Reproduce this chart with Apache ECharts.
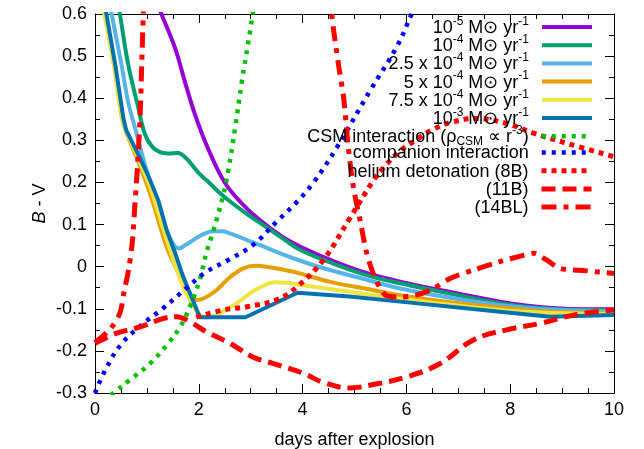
<!DOCTYPE html>
<html><head><meta charset="utf-8">
<script src="https://cdn.jsdelivr.net/npm/echarts@6/dist/echarts.min.js"></script>
<style>html,body{margin:0;padding:0;background:#fff}#c{width:644px;height:449px}</style>
</head><body><div id="c"></div>
<script>
// ---------- data (x = days after explosion, y = B - V) ----------
const mdot1e5 = [[1.1,0.66],[1.28,0.6],[1.54,0.52],[1.73,0.44],[1.93,0.36],[2.18,0.28],[2.5,0.2],[2.83,0.15],[3.18,0.11],[3.6,0.072],[4.0,0.045],[4.5,0.018],[5.23,-0.015],[5.9,-0.036],[6.5,-0.052],[7.2,-0.069],[7.8,-0.083],[8.3,-0.092],[8.8,-0.098],[9.4,-0.101],[10,-0.101]];
const mdot1e4 = [[0.4,0.66],[0.48,0.6],[0.64,0.48],[0.83,0.38],[0.96,0.315],[1.1,0.285],[1.25,0.272],[1.4,0.269],[1.6,0.27],[1.75,0.258],[1.9,0.237],[2.0,0.222],[2.15,0.205],[2.5,0.165],[3.0,0.119],[3.3,0.094],[3.63,0.066],[3.95,0.04],[4.53,0.01],[5.23,-0.02],[5.9,-0.04],[6.52,-0.056],[7.2,-0.073],[7.8,-0.087],[8.3,-0.095],[8.77,-0.1],[9.4,-0.103],[10,-0.103]];
const mdot25e4 = [[0.25,0.645],[0.32,0.6],[0.51,0.48],[0.64,0.39],[0.77,0.33],[0.9,0.27],[1.05,0.205],[1.2,0.15],[1.35,0.095],[1.5,0.055],[1.62,0.043],[1.75,0.052],[1.89,0.063],[2.05,0.075],[2.28,0.084],[2.45,0.084],[2.6,0.079],[2.9,0.065],[3.18,0.051],[3.5,0.035],[3.82,0.02],[4.2,0.004],[4.53,-0.008],[5.2,-0.03],[5.88,-0.052],[6.8,-0.073],[7.8,-0.091],[8.8,-0.102],[10,-0.106]];
const mdot5e4 = [[0.12,0.66],[0.2,0.6],[0.37,0.48],[0.53,0.35],[0.6,0.32],[0.83,0.25],[1.06,0.174],[1.38,0.047],[1.55,0.0],[1.7,-0.04],[1.85,-0.07],[1.96,-0.079],[2.1,-0.075],[2.34,-0.056],[2.6,-0.025],[2.86,-0.004],[3.08,0.002],[3.3,0.0],[3.82,-0.012],[4.53,-0.036],[5.2,-0.052],[5.88,-0.068],[6.8,-0.084],[7.8,-0.097],[8.8,-0.107],[10,-0.11]];
const mdot75e4 = [[0.1,0.66],[0.18,0.6],[0.36,0.48],[0.52,0.35],[0.6,0.322],[0.83,0.258],[1.06,0.19],[1.38,0.065],[1.7,-0.048],[1.9,-0.095],[2.02,-0.115],[2.15,-0.121],[2.34,-0.115],[2.55,-0.1],[2.73,-0.087],[3.0,-0.062],[3.18,-0.049],[3.47,-0.037],[3.7,-0.038],[4.0,-0.044],[4.53,-0.053],[5.88,-0.076],[7.8,-0.103],[8.8,-0.11],[10,-0.112]];
const mdot1e3 = [[0.15,0.65],[0.22,0.6],[0.39,0.48],[0.55,0.35],[0.6,0.325],[0.83,0.267],[1.03,0.215],[1.22,0.157],[1.38,0.087],[1.55,0.03],[1.7,-0.024],[2.02,-0.12],[2.9,-0.12],[3.9,-0.062],[4.9,-0.071],[5.88,-0.083],[7.8,-0.107],[8.77,-0.119],[10,-0.115]];
const csmInteraction = [[0.3,-0.305],[0.385,-0.297],[0.67,-0.269],[1.06,-0.23],[1.41,-0.182],[1.64,-0.143],[1.83,-0.095],[2.02,-0.03],[2.15,0.035],[2.28,0.085],[2.47,0.17],[2.57,0.23],[2.7,0.33],[2.83,0.44],[2.95,0.53],[3.05,0.61]];
const companionInteraction = [[0,-0.3],[0.2,-0.245],[0.5,-0.185],[0.9,-0.138],[1.3,-0.1],[1.77,-0.05],[2.15,-0.012],[2.6,0.018],[3.05,0.052],[3.5,0.107],[3.9,0.155],[4.21,0.2],[4.66,0.283],[5.3,0.418],[5.81,0.521],[6.1,0.6],[6.2,0.63]];
const heliumDet8B = [[1.95,-0.12],[2.47,-0.103],[2.93,-0.095],[3.5,-0.079],[3.89,-0.048],[4.4,0.016],[4.91,0.115],[5.36,0.204],[5.56,0.235],[5.88,0.275],[6.2,0.302],[6.5,0.325],[6.84,0.342],[7.35,0.352],[7.93,0.34],[8.45,0.317],[9.09,0.293],[10,0.261]];
const model11B = [[0,-0.182],[0.42,-0.158],[0.87,-0.143],[1.32,-0.123],[1.57,-0.119],[1.83,-0.131],[2.15,-0.155],[2.6,-0.182],[3.05,-0.215],[3.44,-0.23],[4.01,-0.253],[4.4,-0.275],[4.9,-0.288],[5.36,-0.28],[6.0,-0.262],[6.65,-0.23],[7.29,-0.174],[7.93,-0.15],[8.57,-0.135],[9.22,-0.115],[10,-0.103]];
const model14BL = [[0,-0.18],[0.3,-0.147],[0.48,-0.11],[0.56,-0.06],[0.65,-0.005],[0.72,0.06],[0.77,0.15],[0.82,0.24],[0.87,0.36],[0.9,0.48],[0.93,0.6],[0.96,0.75],[1.0,0.9],[4.4,0.9],[4.5,0.7],[4.56,0.6],[4.69,0.481],[4.79,0.402],[4.88,0.283],[4.98,0.188],[5.11,0.109],[5.23,0.035],[5.36,-0.016],[5.5,-0.052],[5.62,-0.069],[5.88,-0.072],[6.2,-0.067],[6.52,-0.052],[6.84,-0.028],[7.29,-0.008],[7.8,0.012],[8.2,0.025],[8.45,0.032],[8.7,0.016],[8.96,-0.004],[9.47,-0.01],[10,-0.016]];

const xRange = [0, 10];
const yRange = [-0.3, 0.6];

// ---------- styles ----------
const FONT = '"Liberation Sans", Arial, Helvetica, sans-serif';
const RICH = {
  sup: {fontSize: 12, fontFamily: FONT, color: '#000', padding: [0, 0, 13, 0]},
  sub: {fontSize: 12, fontFamily: FONT, color: '#000', padding: [9, 0, 0, 0]},
  i: {fontSize: 18, fontFamily: FONT, color: '#000', fontStyle: 'italic'}
};
const defs = [
  {name: 'm1e-5', label: '10{sup|-5} M⊙ yr{sup|-1}', data: mdot1e5, color: '#9400d3', width: 4, dash: 'solid', smooth: 0.4},
  {name: 'm1e-4', label: '10{sup|-4} M⊙ yr{sup|-1}', data: mdot1e4, color: '#009e73', width: 4, dash: 'solid', smooth: 0.4},
  {name: 'm2.5e-4', label: '2.5 x 10{sup|-4} M⊙ yr{sup|-1}', data: mdot25e4, color: '#56b4e9', width: 4, dash: 'solid', smooth: 0.4},
  {name: 'm5e-4', label: '5 x 10{sup|-4} M⊙ yr{sup|-1}', data: mdot5e4, color: '#e69f00', width: 4, dash: 'solid', smooth: 0.4},
  {name: 'm7.5e-4', label: '7.5 x 10{sup|-4} M⊙ yr{sup|-1}', data: mdot75e4, color: '#f0e442', width: 4, dash: 'solid', smooth: 0.4},
  {name: 'm1e-3', label: '10{sup|-3} M⊙ yr{sup|-1}', data: mdot1e3, color: '#0072b2', width: 4, dash: 'solid', smooth: false},
  {name: 'csm', label: 'CSM interaction (ρ{sub|CSM} ∝ r{sup|-3})', data: csmInteraction, color: '#00c000', width: 4.5, dash: [4, 6], smooth: 0.4},
  {name: 'comp', label: 'companion interaction', data: companionInteraction, color: '#0000ff', width: 4.5, dash: [4, 6], smooth: 0.4},
  {name: '8B', label: 'helium detonation (8B)', data: heliumDet8B, color: '#ff0000', width: 5, dash: [5, 5], smooth: 0.4},
  {name: '11B', label: '(11B)', data: model11B, color: '#ff0000', width: 5, dash: [14, 7], smooth: 0.4},
  {name: '14BL', label: '(14BL)', data: model14BL, color: '#ff0000', width: 5, dash: [15, 7, 5, 7], smooth: 0.3}
];

const axisCommon = {
  type: 'value',
  axisLine: {onZero: false, lineStyle: {color: '#000', width: 1}},
  axisTick: {show: true, inside: true, length: 9, lineStyle: {color: '#000', width: 1}},
  minorTick: {show: true, length: 5, lineStyle: {color: '#000', width: 1}},
  splitLine: {show: false},
  minorSplitLine: {show: false}
};
const labelStyle = {fontSize: 18, color: '#000', fontFamily: FONT, margin: 8, showMinLabel: true, showMaxLabel: true};

const option = {
  animation: false,
  backgroundColor: '#fff',
  grid: {left: 95, right: 30, top: 14, bottom: 56, outerBoundsMode: 'none', containLabel: false},
  xAxis: [
    Object.assign({}, axisCommon, {
      min: xRange[0], max: xRange[1], interval: 2, position: 'bottom',
      minorTick: Object.assign({}, axisCommon.minorTick, {splitNumber: 4}),
      axisLabel: labelStyle,
      name: 'days after explosion', nameLocation: 'middle', nameGap: 38, nameMoveOverlap: false,
      nameTextStyle: {fontSize: 18, color: '#000', fontFamily: FONT}
    }),
    Object.assign({}, axisCommon, {
      min: xRange[0], max: xRange[1], interval: 2, position: 'top',
      minorTick: Object.assign({}, axisCommon.minorTick, {splitNumber: 4}),
      axisLabel: {show: false}
    })
  ],
  yAxis: [
    Object.assign({}, axisCommon, {
      min: yRange[0], max: yRange[1], interval: 0.1, position: 'left',
      minorTick: Object.assign({}, axisCommon.minorTick, {splitNumber: 2}),
      axisLabel: Object.assign({}, labelStyle, {formatter: v => String(Math.round(v * 10) / 10)}),
      name: '{i|B} - V', nameLocation: 'middle', nameGap: 46, nameRotate: 90, nameMoveOverlap: false,
      nameTextStyle: {fontSize: 18, color: '#000', fontFamily: FONT, rich: RICH}
    }),
    Object.assign({}, axisCommon, {
      min: yRange[0], max: yRange[1], interval: 0.1, position: 'right',
      minorTick: Object.assign({}, axisCommon.minorTick, {splitNumber: 2}),
      axisLabel: {show: false}
    })
  ],
  legend: defs.map((d, i) => ({
    data: [d.name],
    right: 50,
    top: 27.5 + i * 18.2 - 12,
    orient: 'horizontal',
    align: 'right',
    padding: 0,
    itemWidth: 50,
    itemHeight: 24,
    selectedMode: false,
    formatter: () => d.label,
    textStyle: {fontSize: 18, color: '#000', fontFamily: FONT, padding: [2, 8, 0, 0], rich: RICH},
    itemStyle: {opacity: 0, borderWidth: 0},
    lineStyle: {color: d.color, width: d.width, type: d.dash, cap: 'butt'}
  })),
  series: defs.map(d => ({
    name: d.name,
    type: 'line',
    xAxisIndex: 0,
    yAxisIndex: 0,
    data: d.data,
    symbol: 'none',
    showSymbol: false,
    smooth: d.smooth,
    clip: true,
    color: d.color,
    lineStyle: {color: d.color, width: d.width, type: d.dash, cap: 'butt', join: 'round'},
    emphasis: {disabled: true}
  }))
};

const chart = echarts.init(document.getElementById('c'), null, {renderer: 'canvas'});
chart.setOption(option);
</script>
</body></html>
